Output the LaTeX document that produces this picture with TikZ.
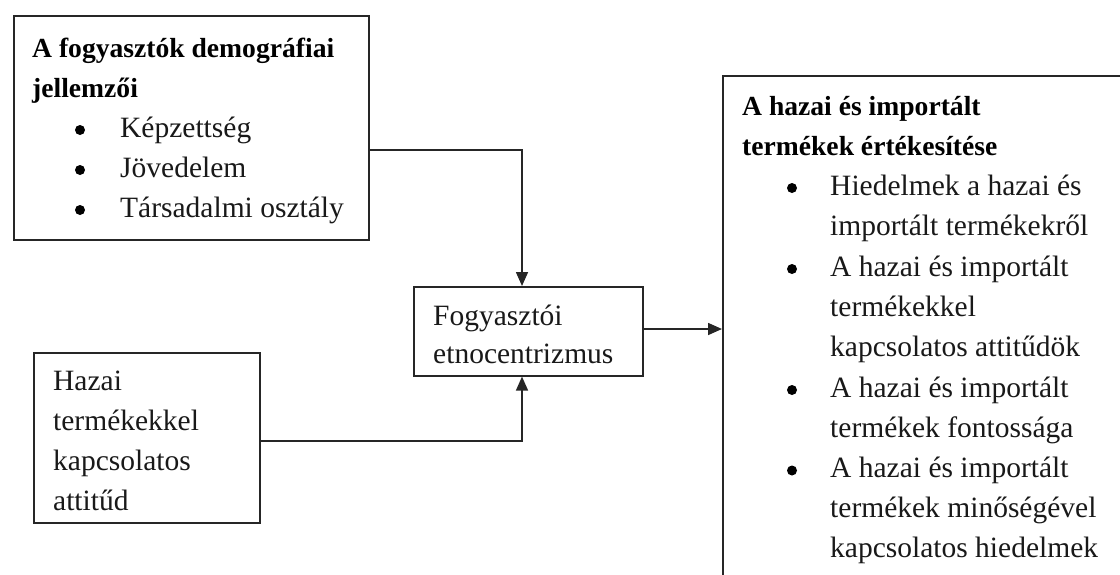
\documentclass[tikz,border=0pt]{standalone}
\usepackage{fontspec}
\setmainfont{Liberation Serif}
\usetikzlibrary{arrows.meta}
\tikzset{
  box/.style={draw=black!85, line width=1.6pt, rectangle, inner sep=0pt, anchor=north west},
  txt/.style={anchor=base west, inner sep=0pt, font=\fontsize{29.5}{40}\selectfont, text=black!90},
  btxt/.style={anchor=base west, inner sep=0pt, font=\fontsize{27.6}{40}\selectfont\bfseries, text=black},
  dot/.style={circle, fill=black, inner sep=0pt, minimum size=10pt},
  conn/.style={draw=black!85, line width=1.6pt, -{Triangle[length=14pt,width=12pt]}},
}
\begin{document}
\begin{tikzpicture}[x=1pt,y=-1pt]
\useasboundingbox (0,0) rectangle (1120,574);
% boxes
\node[box, minimum width=355pt, minimum height=224pt] (demo) at (13,15) {};
\node[box, minimum width=229pt, minimum height=89pt] (etno) at (413,286) {};
\node[box, minimum width=226pt, minimum height=170pt] (hazai) at (33,352) {};
\begin{scope}
\clip (0,0) rectangle (1120,574);
\node[box, minimum width=500pt, minimum height=600pt] (ert) at (722,75) {};
\end{scope}
% left top text
\node[btxt] (d1) at (32,57) {A fogyasztók demográfiai};
\node[btxt] (d2) at (32,97) {jellemzői};
\node[dot] (db1) at (80,130) {};
\node[txt] (d3) at (120,137) {Képzettség};
\node[dot] (db2) at (80,170) {};
\node[txt] (d4) at (120,177) {Jövedelem};
\node[dot] (db3) at (80,210) {};
\node[txt] (d5) at (120,217) {Társadalmi osztály};
% middle text
\node[txt] (e1) at (433,325) {Fogyasztói};
\node[txt] (e2) at (433,363) {etnocentrizmus};
% bottom left text
\node[txt] (h1) at (53,390) {Hazai};
\node[txt] (h2) at (53,430) {termékekkel};
\node[txt] (h3) at (53,470) {kapcsolatos};
\node[txt] (h4) at (53,510) {attitűd};
% right text
\node[btxt] (r1) at (742,115) {A hazai és importált};
\node[btxt] (r2) at (742,155) {termékek értékesítése};
\node[dot] (rb1) at (792,188) {};
\node[txt] (r3) at (830,195) {Hiedelmek a hazai és};
\node[txt] (r4) at (830,235.5) {importált termékekről};
\node[dot] (rb2) at (792,269) {};
\node[txt] (r5) at (830,276) {A hazai és importált};
\node[txt] (r6) at (830,316) {termékekkel};
\node[txt] (r7) at (830,356.5) {kapcsolatos attitűdök};
\node[dot] (rb3) at (792,390) {};
\node[txt] (r8) at (830,397) {A hazai és importált};
\node[txt] (r9) at (830,437) {termékek fontossága};
\node[dot] (rb4) at (792,470.5) {};
\node[txt] (r10) at (830,477.5) {A hazai és importált};
\node[txt] (r11) at (830,517.5) {termékek minőségével};
\node[txt] (r12) at (830,557.5) {kapcsolatos hiedelmek};
% connectors
\coordinate (c1) at (522,150);
\coordinate (c2) at (522,441);
\coordinate (c3) at (700,329);
\draw[conn] (demo.east |- c1) -- (c1) -- (c1 |- etno.north);
\draw[conn] (hazai.east |- c2) -- (c2) -- (c2 |- etno.south);
\draw[conn] (etno.east |- c3) -- (ert.west |- c3);
\end{tikzpicture}
\end{document}
